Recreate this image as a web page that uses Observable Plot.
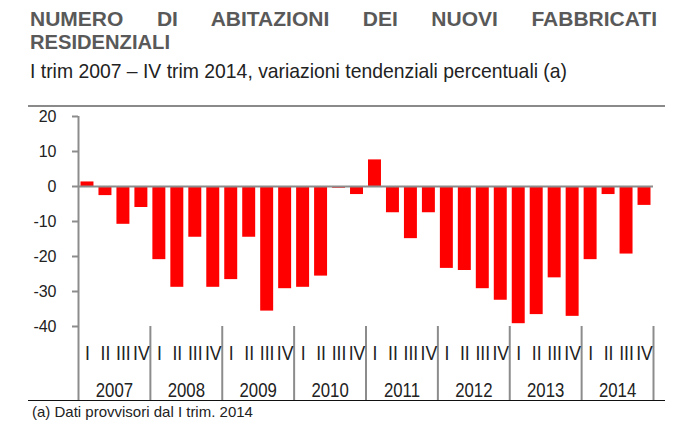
<!DOCTYPE html>
<html>
<head>
<meta charset="utf-8">
<script src="https://cdn.jsdelivr.net/npm/d3@7"></script>
<script src="https://cdn.jsdelivr.net/npm/@observablehq/plot@0.6"></script>
<style>
  html, body { margin: 0; padding: 0; background: #fff; }
  body { width: 696px; height: 444px; position: relative; overflow: hidden; font-family: "Liberation Sans", Arial, sans-serif; }
  .t1 { position: absolute; left: 30px; top: 7px; width: 627px; font-weight: bold; font-size: 21px; line-height: 23px; color: #595959; text-align: justify; text-align-last: justify; }
  .t2 { position: absolute; left: 30px; top: 30px; font-weight: bold; font-size: 21px; line-height: 23px; color: #595959; transform: scaleX(0.96); transform-origin: 0 0; }
  .sub { position: absolute; left: 30px; top: 58px; font-size: 21px; line-height: 25px; color: #222; white-space: nowrap; transform: scaleX(0.922); transform-origin: 0 0; }
  .rule { position: absolute; left: 28px; top: 105px; width: 637px; height: 0; border-top: 2px solid #8a8a8a; }
  #chart { position: absolute; left: 0; top: 108px; }
  .bottom { position: absolute; left: 28px; top: 400px; width: 637px; height: 0; border-top: 1.5px solid #111; }
  .note { position: absolute; left: 32px; top: 403px; font-size: 15px; line-height: 18px; color: #222; white-space: nowrap; }
</style>
</head>
<body>
<div class="t1">NUMERO DI ABITAZIONI DEI NUOVI FABBRICATI</div>
<div class="t2">RESIDENZIALI</div>
<div class="sub">I trim 2007 – IV trim 2014, variazioni tendenziali percentuali (a)</div>
<div class="rule"></div>
<div id="chart"></div>
<div class="bottom"></div>
<div class="note">(a) Dati provvisori dal I trim. 2014</div>
<script>
const years = [2007, 2008, 2009, 2010, 2011, 2012, 2013, 2014];
const quarters = ["I", "II", "III", "IV"];
const values = [
  1.3, -2.6, -10.8, -6.0,
  -20.9, -28.8, -14.5, -28.8,
  -26.6, -14.5, -35.6, -29.2,
  -28.8, -25.6, -0.5, -2.3,
  7.6, -7.5, -14.9, -7.5,
  -23.4, -24.0, -29.2, -32.5,
  -39.2, -36.6, -26.1, -37.1,
  -20.9, -2.3, -19.3, -5.4
];
const yTicks = [20, 10, 0, -10, -20, -30, -40];

const data = values.map((v, i) => ({
  i,
  year: years[Math.floor(i / 4)],
  quarter: quarters[i % 4],
  value: v
}));
const qPos = data.map(d => d.i + 0.5);
const yearPos = years.map((_, j) => j * 4 + 2);
const bounds = d3.range(0, values.length + 1, 4);

const grey = "#8c8c8c";
const chart = Plot.plot({
  width: 696,
  height: 296,
  marginLeft: 78,
  marginRight: 43,
  marginTop: 8,
  marginBottom: 78,
  style: { fontFamily: '"Liberation Sans", Arial, sans-serif', color: "#222", background: "transparent" },
  x: { type: "linear", domain: [0, values.length], label: null },
  y: { domain: [-40, 20], label: null },
  marks: [
    Plot.rectY(data, { x1: "i", x2: d => d.i + 1, y: "value", fill: "#ff0000", insetLeft: 2.5, insetRight: 2.5 }),
    Plot.ruleY([0], { stroke: grey, strokeWidth: 2 }),
    Plot.ruleX([0], { stroke: grey, strokeWidth: 2 }),
    Plot.axisY(yTicks, { label: null, tickSize: 6, tickPadding: 16, stroke: grey, strokeWidth: 2, fontSize: 16, tickFormat: d => String(d) }),
    Plot.axisX(bounds, { label: null, anchor: "bottom", tickSize: 74, stroke: grey, strokeWidth: 2, tickFormat: () => "" }),
    Plot.axisX(qPos, { label: null, anchor: "bottom", tickSize: 0, tickPadding: 19, fontSize: 21, tickFormat: d => quarters[Math.floor(d) % 4] }),
    Plot.axisX(yearPos, { label: null, anchor: "bottom", tickSize: 0, tickPadding: 56, fontSize: 20, tickFormat: d => String(years[(d - 2) / 4]) })
  ]
});

// condense x-axis tick labels horizontally (reference uses a narrow typeface)
chart.querySelectorAll('g[aria-label="x-axis tick label"] text').forEach(t => {
  const tr = t.getAttribute("transform");
  if (tr) {
    t.setAttribute("transform", tr + " scale(0.84,1)");
  } else {
    const x = t.getAttribute("x") || 0, y = t.getAttribute("y") || 0;
    t.removeAttribute("x"); t.removeAttribute("y");
    t.setAttribute("transform", `translate(${x},${y}) scale(0.84,1)`);
  }
});
document.getElementById("chart").appendChild(chart);
</script>
</body>
</html>
